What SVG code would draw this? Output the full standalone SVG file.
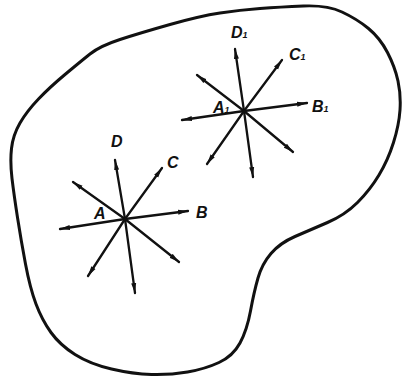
<svg xmlns="http://www.w3.org/2000/svg" width="402" height="381" viewBox="0 0 402 381">
<style>
.outline{fill:none;stroke:#111;stroke-width:3;stroke-linejoin:round}
.arr{stroke:#111;stroke-width:2.3;fill:none;stroke-linecap:round;marker-end:url(#ah)}
.lbl{font-family:"Liberation Sans",Arial,sans-serif;font-style:italic;font-weight:bold;font-size:16px;fill:#111}
.sub{font-size:9px}
</style>
<defs>
<marker id="ah" markerUnits="userSpaceOnUse" markerWidth="11" markerHeight="6" refX="10" refY="3" orient="auto">
<path d="M0,0.5 L10,3 L0,5.5 z" fill="#111"/>
</marker>
</defs>
<rect width="402" height="381" fill="#fff"/>
<g id="region">
<path class="outline" d="M342,12 Q327,5 303.5,6 Q280,7 260,8.5 Q240,10 220,13 Q200,16 170,24.5 Q140,33 120,39.5 Q100,46 90,54 Q80,62 65,74.5 Q50,87 38.5,99 Q27,111 20,123 Q13,135 11.5,148.5 Q10,162 12,178.5 Q14,195 17.5,217.5 Q21,240 25.5,264 Q30,288 36,304 Q42,320 51,332.5 Q60,345 75,354.5 Q90,364 111.5,369 Q133,374 151.5,374.5 Q170,375 187.5,372 Q205,369 219,362.5 Q233,356 240,343 Q247,330 250.5,311 Q254,292 258,278 Q262,264 271,253.5 Q280,243 295,236.5 Q310,230 327.5,222.5 Q345,215 357.5,202.5 Q370,190 379,175 Q388,160 393.5,142.5 Q399,125 400,110 Q401,95 398,81 Q395,67 387.5,52.5 Q380,38 368.5,28.5 Q357,19 342,12 Z"/>
</g>
<g id="connectors">
<g id="star-A-arrows">
<line class="arr" x1="125" y1="219" x2="115" y2="160"/>
<line class="arr" x1="125" y1="219" x2="162" y2="168"/>
<line class="arr" x1="125" y1="219" x2="188" y2="211"/>
<line class="arr" x1="125" y1="219" x2="73" y2="182"/>
<line class="arr" x1="125" y1="219" x2="60" y2="229"/>
<line class="arr" x1="125" y1="219" x2="88" y2="276"/>
<line class="arr" x1="125" y1="219" x2="135" y2="293"/>
<line class="arr" x1="125" y1="219" x2="179" y2="262"/>
</g>
<g id="star-A1-arrows">
<line class="arr" x1="244" y1="111" x2="235" y2="49"/>
<line class="arr" x1="244" y1="111" x2="282" y2="60"/>
<line class="arr" x1="244" y1="111" x2="307" y2="103"/>
<line class="arr" x1="244" y1="111" x2="197" y2="75"/>
<line class="arr" x1="244" y1="111" x2="182" y2="120"/>
<line class="arr" x1="244" y1="111" x2="207" y2="164"/>
<line class="arr" x1="244" y1="111" x2="253" y2="177"/>
<line class="arr" x1="244" y1="111" x2="293" y2="152"/>
</g>
</g>
<g id="node-A">
<text class="lbl" x="94" y="219">A</text>
<text class="lbl" x="196" y="218">B</text>
<text class="lbl" x="167" y="168">C</text>
<text class="lbl" x="111" y="147">D</text>
</g>
<g id="node-A1">
<text class="lbl" x="213" y="113">A<tspan class="sub">1</tspan></text>
<text class="lbl" x="312" y="112">B<tspan class="sub">1</tspan></text>
<text class="lbl" x="289" y="60">C<tspan class="sub">1</tspan></text>
<text class="lbl" x="231" y="38">D<tspan class="sub">1</tspan></text>
</g>
</svg>
